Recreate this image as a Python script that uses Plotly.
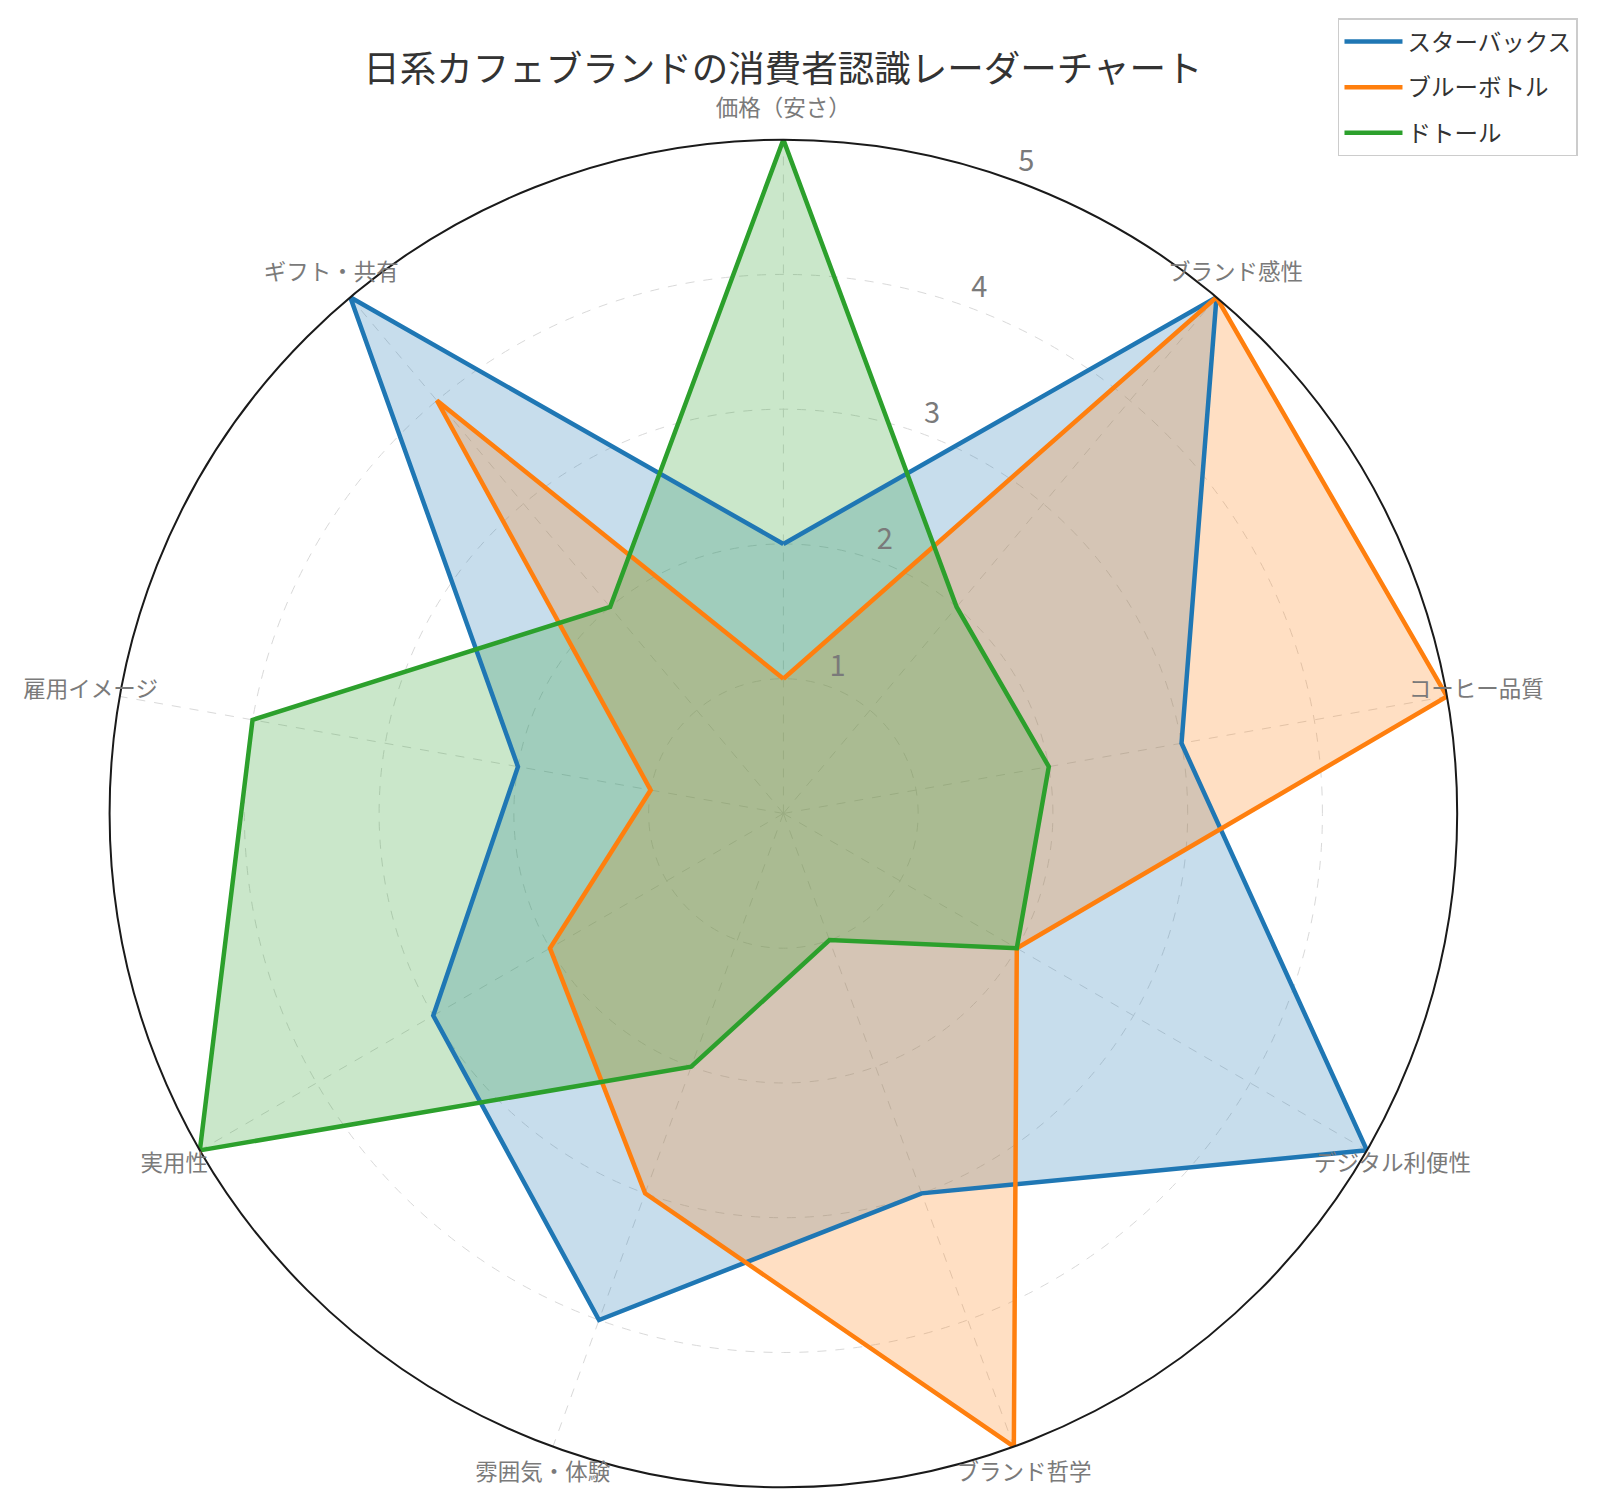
import plotly.graph_objects as go

categories = ['価格（安さ）', 'ブランド感性', 'コーヒー品質', 'デジタル利便性', 'ブランド哲学',
              '雰囲気・体験', '実用性', '雇用イメージ', 'ギフト・共有']
starbucks = [2, 5, 3, 5, 3, 4, 3, 2, 5]
bluebottle = [1, 5, 5, 2, 5, 3, 2, 1, 4]
doutor = [5, 2, 2, 2, 1, 2, 5, 4, 2]
radial_ticks = [1, 2, 3, 4, 5]

brands = ['スターバックス', 'ブルーボトル', 'ドトール']
colors = ['#1f77b4', '#ff7f0e', '#2ca02c']
fills = ['rgba(31,119,180,0.25)', 'rgba(255,127,14,0.25)', 'rgba(44,160,44,0.25)']

FONT = 'Noto Sans CJK JP'

# the page is shown with an 8px body margin and a ~0.981 zoom,
# so size the figure in those units and convert target screen pixels
S = 0.981
W = round(1598 / S - 8)
H = round(1510 / S - 8)


def px_x(sx):
    return (sx / S - 8) / W


def px_y(sy):
    return 1 - (sy / S - 8) / H


# one spoke per category, clockwise from the top
angles = [i * 360 / len(categories) for i in range(len(categories))]
series = [starbucks, bluebottle, doutor]

# main plot circle on screen: x 107..1430, y 137..1459
x0, x1 = px_x(107), px_x(1430)
y0, y1 = px_y(1459), px_y(137)
# a larger, invisible polar with the same centre and scale for the labels
K = 1.07
cx, cy = (x0 + x1) / 2, (y0 + y1) / 2
hx, hy = (x1 - x0) / 2 * K, (y1 - y0) / 2 * K

fig = go.Figure()

# fills first so every outline sits on top of them
for name, vals, f in zip(brands, series, fills):
    fig.add_trace(go.Scatterpolar(
        r=vals + vals[:1], theta=angles + angles[:1],
        mode='lines', line=dict(width=0, color=f),
        fill='toself', fillcolor=f, legendgroup=name,
        showlegend=False, hoverinfo='skip',
    ))

for name, vals, c in zip(brands, series, colors):
    fig.add_trace(go.Scatterpolar(
        r=vals + vals[:1], theta=angles + angles[:1],
        name=name, mode='lines', legendgroup=name,
        line=dict(color=c, width=4.5),
    ))

# category labels, centred just outside the rim like matplotlib does
fig.add_trace(go.Scatterpolar(
    r=[5.22] * len(categories), theta=angles, text=categories,
    mode='text', textposition='middle center', subplot='polar2',
    textfont=dict(size=22.5, color='#7a7a7a', family=FONT),
    cliponaxis=False, showlegend=False, hoverinfo='skip',
))

# radial tick labels along ~20 degrees
fig.add_trace(go.Scatterpolar(
    r=[t + 0.15 for t in radial_ticks], theta=[20.5] * len(radial_ticks),
    text=[str(t) for t in radial_ticks],
    mode='text', textposition='middle center', subplot='polar2',
    textfont=dict(size=29, color='#7a7a7a', family=FONT),
    cliponaxis=False, showlegend=False, hoverinfo='skip',
))

fig.update_layout(
    width=W, height=H,
    margin=dict(l=0, r=0, t=0, b=0),
    paper_bgcolor='white',
    font=dict(family=FONT, color='#555555'),
    title=dict(text='日系カフェブランドの消費者認識レーダーチャート',
               x=px_x(768), xanchor='center', y=px_y(68), yanchor='middle',
               font=dict(size=36.5, color='#333333', family=FONT)),
    legend=dict(x=px_x(1548), y=px_y(18), xanchor='right', yanchor='top',
                bordercolor='#cccccc', borderwidth=1.5, bgcolor='white',
                tracegroupgap=12, itemwidth=58,
                font=dict(size=23.5, color='#333333', family=FONT)),
    polar=dict(
        domain=dict(x=[x0, x1], y=[y0, y1]),
        bgcolor='white',
        angularaxis=dict(
            rotation=90, direction='clockwise',
            tickmode='array', tickvals=angles, showticklabels=False, ticks='',
            showline=True, linecolor='#1a1a1a', linewidth=2,
            gridcolor='#d9d9d9', griddash='dash', gridwidth=1,
        ),
        radialaxis=dict(
            range=[0, 5], tickvals=radial_ticks, showticklabels=False,
            showline=False, ticks='',
            gridcolor='#d9d9d9', griddash='dash', gridwidth=1,
        ),
    ),
    polar2=dict(
        domain=dict(x=[cx - hx, cx + hx], y=[cy - hy, cy + hy]),
        bgcolor='rgba(0,0,0,0)',
        angularaxis=dict(rotation=90, direction='clockwise', visible=False),
        radialaxis=dict(range=[0, 5 * K], visible=False),
    ),
)

fig.write_html('out.html')
